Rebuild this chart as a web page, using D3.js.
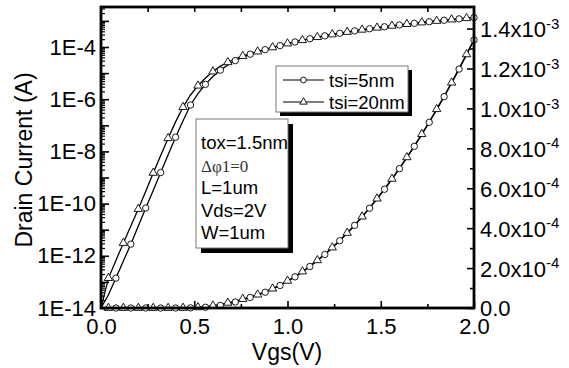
<!DOCTYPE html>
<html><head><meta charset="utf-8">
<script src="https://cdn.jsdelivr.net/npm/d3@7"></script>
<style>
body{margin:0;background:#fff;}
svg text{fill:#000;}
</style></head>
<body><svg id="c" width="569" height="368" font-family="'Liberation Sans',Arial,sans-serif"></svg>
<script>
// ---- data ----
const vgs = [0.00,0.04,0.08,0.12,0.16,0.20,0.24,0.28,0.32,0.36,0.40,0.44,0.48,0.52,0.56,0.60,0.64,0.68,0.72,0.76,
             0.80,0.84,0.88,0.92,0.96,1.00,1.04,1.08,1.12,1.16,1.20,1.24,1.28,1.32,1.36,1.40,1.44,1.48,1.52,1.56,
             1.60,1.64,1.68,1.72,1.76,1.80,1.84,1.88,1.92,1.96,2.00];
const id20 = [1.0e-14,1.4e-13,6.6e-13,3.1e-12,1.4e-11,6.2e-11,3.0e-10,1.5e-9,6.9e-9,3.2e-8,1.35e-7,5.0e-7,1.45e-6,3.3e-6,6.5e-6,
              1.15e-5,1.85e-5,2.6e-5,3.5e-5,4.5e-5,5.6e-5,6.7e-5,8.1e-5,9.7e-5,1.15e-4,1.36e-4,1.58e-4,1.83e-4,2.10e-4,2.39e-4,
              2.70e-4,3.03e-4,3.39e-4,3.76e-4,4.16e-4,4.58e-4,5.02e-4,5.48e-4,5.97e-4,6.47e-4,7.00e-4,7.55e-4,8.12e-4,8.71e-4,9.32e-4,
              9.96e-4,1.061e-3,1.129e-3,1.199e-3,1.271e-3,1.345e-3];
const id5 = [1.0e-14,3.2e-14,1.4e-13,6.3e-13,2.8e-12,1.4e-11,6.8e-11,3.2e-10,1.55e-9,7.4e-9,3.5e-8,1.5e-7,6.0e-7,1.65e-6,3.7e-6,
             7.4e-6,1.3e-5,2.05e-5,3.0e-5,4.1e-5,5.3e-5,6.5e-5,7.9e-5,9.5e-5,1.13e-4,1.34e-4,1.56e-4,1.81e-4,2.08e-4,2.37e-4,
             2.68e-4,3.01e-4,3.37e-4,3.74e-4,4.14e-4,4.56e-4,5.00e-4,5.46e-4,5.95e-4,6.45e-4,6.98e-4,7.53e-4,8.10e-4,8.69e-4,9.30e-4,
             9.94e-4,1.059e-3,1.127e-3,1.197e-3,1.269e-3,1.343e-3];
const seriesNames = ["tsi=5nm","tsi=20nm"];
const xTicks = [0,0.5,1.0,1.5,2.0];
const xTickLabels = ["0.0","0.5","1.0","1.5","2.0"];
const logLabelExps = [-4,-6,-8,-10,-12,-14];
const linTicks = [0,2e-4,4e-4,6e-4,8e-4,1.0e-3,1.2e-3,1.4e-3];
const linTickMant = ["0.0","2.0","4.0","6.0","8.0","1.0","1.2","1.4"];
const linTickExp = ["","-4","-4","-4","-4","-3","-3","-3"];
const params = ["tox=1.5nm","\u0394\u03C61=0","L=1um","Vds=2V","W=1um"];

// ---- layout ----
const L=101, R=474, T=7, B=308;
const svg = d3.select("#c");
const x = d3.scaleLinear().domain([0,2]).range([L,R]);
const yLog = d3.scaleLog().domain([1e-14, Math.pow(10,-2.467)]).range([B,T]);
const yLin = d3.scaleLinear().domain([0,1.508e-3]).range([B,T]);

svg.append("defs").append("clipPath").attr("id","clip")
  .append("rect").attr("x",L).attr("y",T).attr("width",R-L).attr("height",B-T);

const plot = svg.append("g").attr("clip-path","url(#clip)");
const sets = [{v:id5, type:d3.symbolCircle, size:32, odd:false},
              {v:id20, type:d3.symbolTriangle, size:30, odd:true}];
[yLog,yLin].forEach(ys=>{
  sets.forEach(s=>{
    const pts = vgs.map((v,i)=>[v,s.v[i],i]);
    plot.append("path").datum(pts)
      .attr("d", d3.line().x(d=>x(d[0])).y(d=>ys(d[1])))
      .attr("fill","none").attr("stroke","#000").attr("stroke-width",1.3);
  });
});
const mk = svg.append("g");
[yLog,yLin].forEach(ys=>{
  sets.forEach(s=>{
    const pts = vgs.map((v,i)=>[v,s.v[i],i]).filter(d=> s.odd ? d[2]%2===1 : (d[2]%2===0 && d[2]>0));
    mk.selectAll(null).data(pts).enter().append("path")
      .attr("transform",d=>`translate(${x(d[0])},${ys(d[1])})`)
      .attr("d", d3.symbol().type(s.type).size(s.size))
      .attr("fill","#fff").attr("stroke","#000").attr("stroke-width",0.9);
  });
});

// ---- axes ----
function style(g){ g.select(".domain").remove(); g.selectAll("line").attr("stroke","#000").attr("stroke-width",1.6); }
// bottom
svg.append("g").attr("transform",`translate(0,${B})`)
  .call(d3.axisBottom(x).tickValues(xTicks).tickFormat((d,i)=>xTickLabels[i]).tickSize(-7).tickPadding(10))
  .call(style).call(g=>g.selectAll("text").attr("font-size",22).attr("dy","0.71em"));
svg.append("g").attr("transform",`translate(0,${B})`)
  .call(d3.axisBottom(x).tickValues([0.25,0.75,1.25,1.75]).tickFormat("").tickSize(-4)).call(style);
// top
svg.append("g").attr("transform",`translate(0,${T})`)
  .call(d3.axisTop(x).tickValues([0.25,0.5,0.75,1.0,1.25,1.5,1.75]).tickFormat("").tickSize(-5)).call(style);
// left log
const decades = d3.range(-14,-2).map(e=>Math.pow(10,e));
const minors = [];
d3.range(-14,-2).forEach(e=>{ for(let m=2;m<=9;m++){ const v=m*Math.pow(10,e); if(v<=yLog.domain()[1]) minors.push(v);} });
svg.append("g").attr("transform",`translate(${L},0)`)
  .call(d3.axisLeft(yLog).tickValues(minors).tickFormat("").tickSize(-4)).call(style)
  .call(g=>g.selectAll("line").attr("stroke-width",1.2));
svg.append("g").attr("transform",`translate(${L},0)`)
  .call(d3.axisLeft(yLog).tickValues(decades).tickFormat("").tickSize(-8)).call(style);
svg.append("g").attr("transform",`translate(${L},0)`)
  .call(d3.axisLeft(yLog).tickValues(logLabelExps.map(e=>Math.pow(10,e))).tickFormat(d=>"1E"+Math.round(Math.log10(d))).tickSize(0).tickPadding(5))
  .call(style).call(g=>g.selectAll("text").attr("font-size",22));
// right linear
svg.append("g").attr("transform",`translate(${R},0)`)
  .call(d3.axisRight(yLin).tickValues(d3.range(1e-4,1.5e-3,2e-4)).tickFormat("").tickSize(-4)).call(style);
const rg = svg.append("g").attr("transform",`translate(${R},0)`)
  .call(d3.axisRight(yLin).tickValues(linTicks).tickFormat("").tickSize(-7)).call(style);
rg.selectAll(".tick").each(function(d,i){
  const t = d3.select(this).append("text").attr("x",6).attr("dy","0.36em").attr("font-size",22).attr("text-anchor","start");
  t.append("tspan").text(linTickExp[i] ? linTickMant[i]+"x10" : linTickMant[i]);
  if(linTickExp[i]) t.append("tspan").attr("dy","-0.55em").attr("font-size",15).text(linTickExp[i]);
});
// frame
svg.append("rect").attr("x",L).attr("y",T).attr("width",R-L).attr("height",B-T)
  .attr("fill","none").attr("stroke","#000").attr("stroke-width",2.8);

// axis titles
svg.append("text").attr("x",287).attr("y",352).attr("text-anchor","middle").attr("dominant-baseline","central")
  .attr("font-size",23).text("Vgs(V)");
svg.append("text").attr("transform","translate(24,160) rotate(-90)").attr("text-anchor","middle").attr("dominant-baseline","central")
  .attr("font-size",23).text("Drain Current (A)");

// legend
const lg = svg.append("g");
lg.append("rect").attr("x",280).attr("y",70).attr("width",132).attr("height",46).attr("fill","#000");
lg.append("rect").attr("x",276).attr("y",66).attr("width",132).attr("height",46).attr("fill","#fff").attr("stroke","#777").attr("stroke-width",1);
seriesNames.forEach((n,i)=>{
  const yy = 80 + i*22;
  lg.append("line").attr("x1",283).attr("x2",324).attr("y1",yy).attr("y2",yy).attr("stroke","#000").attr("stroke-width",1.2);
  lg.append("path").attr("transform",`translate(303.5,${yy})`)
    .attr("d",d3.symbol().type(sets[i].type).size(sets[i].size-6)).attr("fill","#fff").attr("stroke","#000").attr("stroke-width",0.9);
  lg.append("text").attr("x",329).attr("y",yy).attr("dominant-baseline","central").attr("font-size",18.5).text(n);
});

// parameter box
const pb = svg.append("g");
pb.append("rect").attr("x",201).attr("y",124).attr("width",92).attr("height",129).attr("fill","#000");
pb.append("rect").attr("x",196).attr("y",119).attr("width",92).attr("height",129).attr("fill","#fff").attr("stroke","#777").attr("stroke-width",1);
const py = [142,166,187,210,232];
params.forEach((p,i)=>{
  const t = pb.append("text").attr("x",201).attr("y",py[i]).attr("dominant-baseline","central").text(p);
  if(i===1) t.style("font-family","'Liberation Serif','Times New Roman',serif").attr("font-size",17).style("fill","#333");
  else t.attr("font-size",18.5);
});
</script></body></html>
